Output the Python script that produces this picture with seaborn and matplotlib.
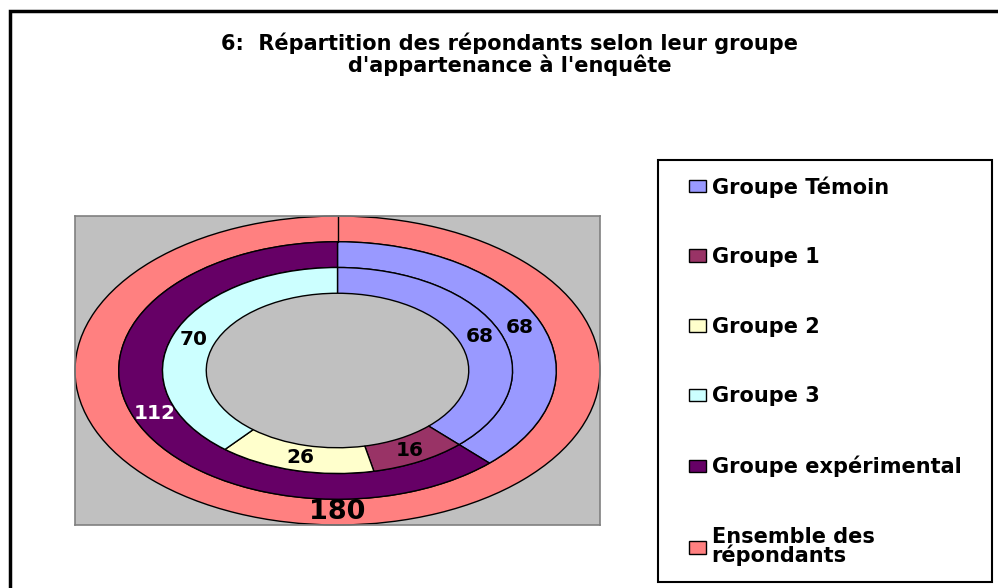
import numpy as np
import matplotlib.pyplot as plt
import seaborn as sns
from matplotlib.patches import Rectangle, Patch

# ---- data ----
inner_labels = ['Groupe Témoin', 'Groupe 1', 'Groupe 2', 'Groupe 3']
inner_values = [68, 16, 26, 70]
middle_labels = ['Groupe Témoin', 'Groupe expérimental']
middle_values = [68, 112]
outer_labels = ['Ensemble des\nrépondants']
outer_values = [180]

legend_labels = ['Groupe Témoin', 'Groupe 1', 'Groupe 2', 'Groupe 3',
                 'Groupe expérimental', 'Ensemble des\nrépondants']
palette = {
    'Groupe Témoin': '#9999FF',
    'Groupe 1': '#993366',
    'Groupe 2': '#FFFFCC',
    'Groupe 3': '#CCFFFF',
    'Groupe expérimental': '#660066',
    'Ensemble des\nrépondants': '#FF8080',
}

title = "6:  Répartition des répondants selon leur groupe\nd'appartenance à l'enquête"

sns.set_theme(style='white')
plt.rcParams['font.family'] = ['DejaVu Sans']
plt.rcParams['text.color'] = 'black'

W, H = 998, 588
fig = plt.figure(figsize=(W / 100, H / 100), dpi=100)
fig.patch.set_facecolor('white')

# plot area (gray box)
ax = fig.add_axes([75 / W, 1 - 525 / H, 525 / W, 309 / H])

ring_w = 1 / 6
rings = [
    (outer_values, outer_labels, 1.0, 19.5),
    (middle_values, middle_labels, 1.0 - ring_w, 14.5),
    (inner_values, inner_labels, 1.0 - 2 * ring_w, 14.5),
]

for values, labels, radius, fsize in rings:
    total = sum(values)
    pct_dist = (radius - ring_w / 2) / radius
    wedges, _, autotexts = ax.pie(
        values,
        radius=radius,
        colors=[palette[l] for l in labels],
        startangle=90,
        counterclock=False,
        autopct=lambda p, t=total: f'{p * t / 100:.0f}',
        pctdistance=pct_dist,
        wedgeprops=dict(width=ring_w, edgecolor='black', linewidth=1),
        textprops=dict(fontsize=fsize, fontweight='bold', color='black'),
        frame=True,
    )
    for lab, txt in zip(labels, autotexts):
        if lab == 'Groupe expérimental':
            txt.set_color('white')

# radial edge at the start of the full outer ring
ax.plot([0, 0], [1 - ring_w, 1.0], color='black', linewidth=1)

ax.set_aspect('auto')
ax.set_xlim(-1, 1)
ax.set_ylim(-1, 1)
ax.set_xticks([])
ax.set_yticks([])
ax.set_facecolor('#C0C0C0')
for sp in ax.spines.values():
    sp.set_visible(True)
    sp.set_color('#808080')
    sp.set_linewidth(1.2)

# title
fig.text(510 / W, 1 - 54 / H, title, ha='center', va='center',
         fontsize=15, fontweight='bold', linespacing=1.0, color='black')

# legend
handles = [Patch(facecolor=palette[l], edgecolor='black', linewidth=1) for l in legend_labels]
leg = fig.legend(handles, legend_labels, loc='upper left',
                 bbox_to_anchor=(689 / W, 1 - 176 / H),
                 frameon=False, borderpad=0, borderaxespad=0,
                 prop={'weight': 'bold', 'size': 15},
                 handlelength=0.8, handleheight=0.55, handletextpad=0.28,
                 labelspacing=2.38)
for t in leg.get_texts():
    t.set_linespacing(0.88)
    t.set_color('black')

# legend box and outer chart border
fig.patches.append(Rectangle((658 / W, 1 - 582 / H), 334 / W, 422 / H,
                             transform=fig.transFigure, fill=False,
                             edgecolor='black', linewidth=1.5))
fig.patches.append(Rectangle((10 / W, -0.2), 1.5, 1.2 - 11 / H,
                             transform=fig.transFigure, fill=False,
                             edgecolor='black', linewidth=2.5))

fig.savefig('out.png', dpi=100)
